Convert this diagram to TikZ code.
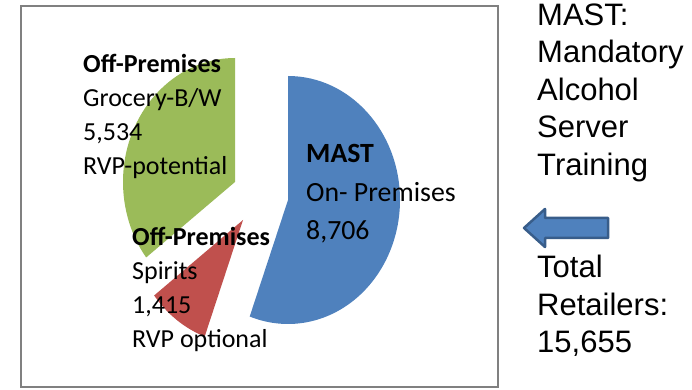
\documentclass[tikz,border=0pt]{standalone}
\usepackage{fontspec}
\setmainfont{Carlito}
\newfontfamily\arialfont{Liberation Sans}
\definecolor{mast_blue}{HTML}{4F81BD}
\definecolor{mast_border}{HTML}{385D8A}
\definecolor{grocery_green}{HTML}{9BBB59}
\definecolor{spirits_red}{HTML}{C0504D}
\tikzset{
  slice_font/.style = {font=\fontsize{26}{34.3}\selectfont},
  mast_font/.style = {font=\fontsize{27.8}{38.5}\selectfont},
  side_font/.style = {font=\arialfont\fontsize{31}{37.5}\selectfont},
  pie_radius/.style = {x radius=112, y radius=124}
}
\tikzset{
  slice_label/.style = {slice_font, align=left, anchor=base west, inner sep=0},
  mast_label/.style = {slice_label, mast_font},
  side_text/.style = {side_font, align=left, anchor=base west, inner sep=0},
  frame/.style = {draw=black!50, line width=2}
}
\begin{document}
\begin{tikzpicture}[x=1pt, y=1pt]
        \useasboundingbox (0,0) rectangle (692,390);

        % Frame
        \draw[frame] (21,3) rectangle (498,384);

        % Slices
        \coordinate (blue_c) at (288,190);
        \coordinate (green_c) at (235,208);
        \coordinate (red_c) at (243,170);
        \fill[mast_blue] (blue_c) -- ++(0,124)
            arc[start angle=90, end angle=-110, pie_radius] -- cycle;
        \fill[grocery_green] (green_c) -- ++(0,124)
            arc[start angle=90, end angle=217.5, pie_radius] -- cycle;
        \fill[spirits_red] (red_c) -- ++({112*cos(217.5)},{124*sin(217.5)})
            arc[start angle=217.5, end angle=250, pie_radius] -- cycle;

        % Labels (anchored on the last line)
        \node[slice_label] (green_lbl) at (83,215) {
            \textbf{Off-Premises}\\
            Grocery-B/W\\
            5,534\\
            RVP-potential
            };
        \node[mast_label] (blue_lbl) at (306,150) {
            \textbf{MAST}\\
            On- Premises\\
            8,706
            };
        \node[slice_label] (red_lbl) at (132,42) {
            \textbf{Off-Premises}\\
            Spirits\\
            1,415\\
            RVP optional
            };

        % Side notes
        \node[side_text] (side_top) at (537,214.5) {
            MAST:\\
            Mandatory\\
            Alcohol\\
            Server\\
            Training
            };
        \node[side_text] (side_bottom) at (537,37) {
            Total\\
            Retailers:\\
            15,655
            };
        \draw[fill=mast_blue, draw=mast_border, line width=2.5, line join=round]
            (524,162) -- (545,181) -- (545,172) -- (608,172)
            -- (608,152) -- (545,152) -- (545,143) -- cycle;
\end{tikzpicture}
\end{document}
